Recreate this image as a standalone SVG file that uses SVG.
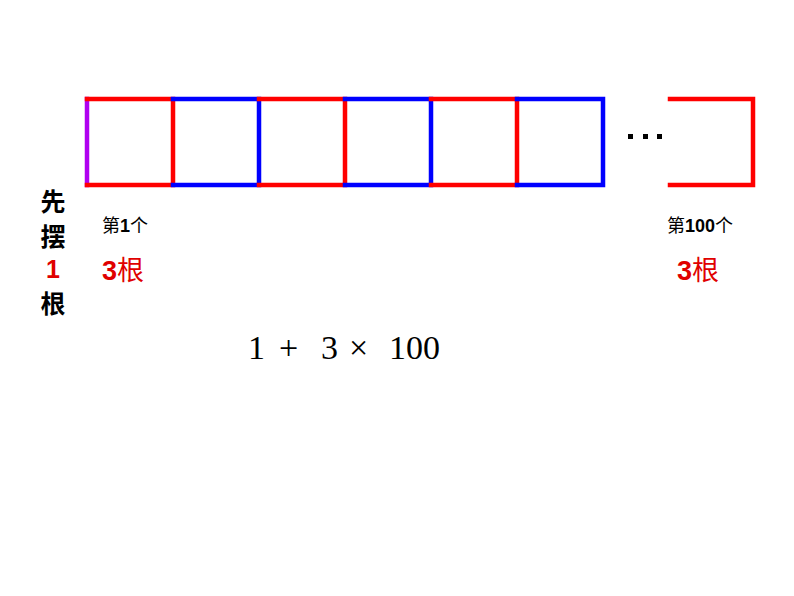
<svg xmlns="http://www.w3.org/2000/svg" width="794" height="596" viewBox="0 0 794 596">
<style>
.r{stroke:#ff0000;stroke-width:4.5;fill:none;stroke-linecap:square}
.b{stroke:#0000ff;stroke-width:4.5;fill:none;stroke-linecap:square}
.p{stroke:#b000f0;stroke-width:4.5;fill:none;stroke-linecap:square}
.cn{font-family:"Liberation Sans","Noto Sans CJK SC",sans-serif}
.lab{font-size:18px;fill:#000}
.cnt{font-size:27px;fill:#e00000}
.side{font-size:25px;fill:#000;text-anchor:middle;font-weight:bold}
.bd{font-weight:bold}
.f{font-family:"Liberation Serif",serif;font-size:34px;fill:#000}
</style>
<rect width="794" height="596" fill="#fff"/>
<g id="connectors">
<line class="p" x1="87" y1="99" x2="87" y2="185"/>
<path class="r" d="M87 99H173V185H87"/>
<path class="b" d="M173 99H259V185H173"/>
<path class="r" d="M259 99H345V185H259"/>
<path class="b" d="M345 99H431V185H345"/>
<path class="r" d="M431 99H517V185H431"/>
<path class="b" d="M517 99H603V185H517"/>
<path class="r" d="M670 99H753V185H670"/>
</g>
<g id="dots" fill="#000">
<rect x="628" y="134" width="5" height="5"/>
<rect x="643" y="134" width="5" height="5"/>
<rect x="657" y="134" width="5" height="5"/>
</g>
<g id="side">
<text class="cn side" x="53" y="211">先</text>
<text class="cn side" x="53" y="246">摆</text>
<text class="cn side" x="53" y="278" style="fill:#e00000">1</text>
<text class="cn side" x="53" y="313">根</text>
</g>
<g id="first">
<text class="cn lab" x="102" y="232">第<tspan class="bd">1</tspan>个</text>
<text class="cn cnt" x="102" y="280"><tspan class="bd">3</tspan>根</text>
</g>
<g id="last">
<text class="cn lab" x="667" y="232">第<tspan class="bd">100</tspan>个</text>
<text class="cn cnt" x="677" y="280"><tspan class="bd">3</tspan>根</text>
</g>
<g id="formula">
<text class="f" x="248" y="359">1</text>
<text class="f" x="279" y="359">+</text>
<text class="f" x="321" y="359">3</text>
<text class="f" x="349" y="359">×</text>
<text class="f" x="389" y="359">100</text>
</g>
</svg>
